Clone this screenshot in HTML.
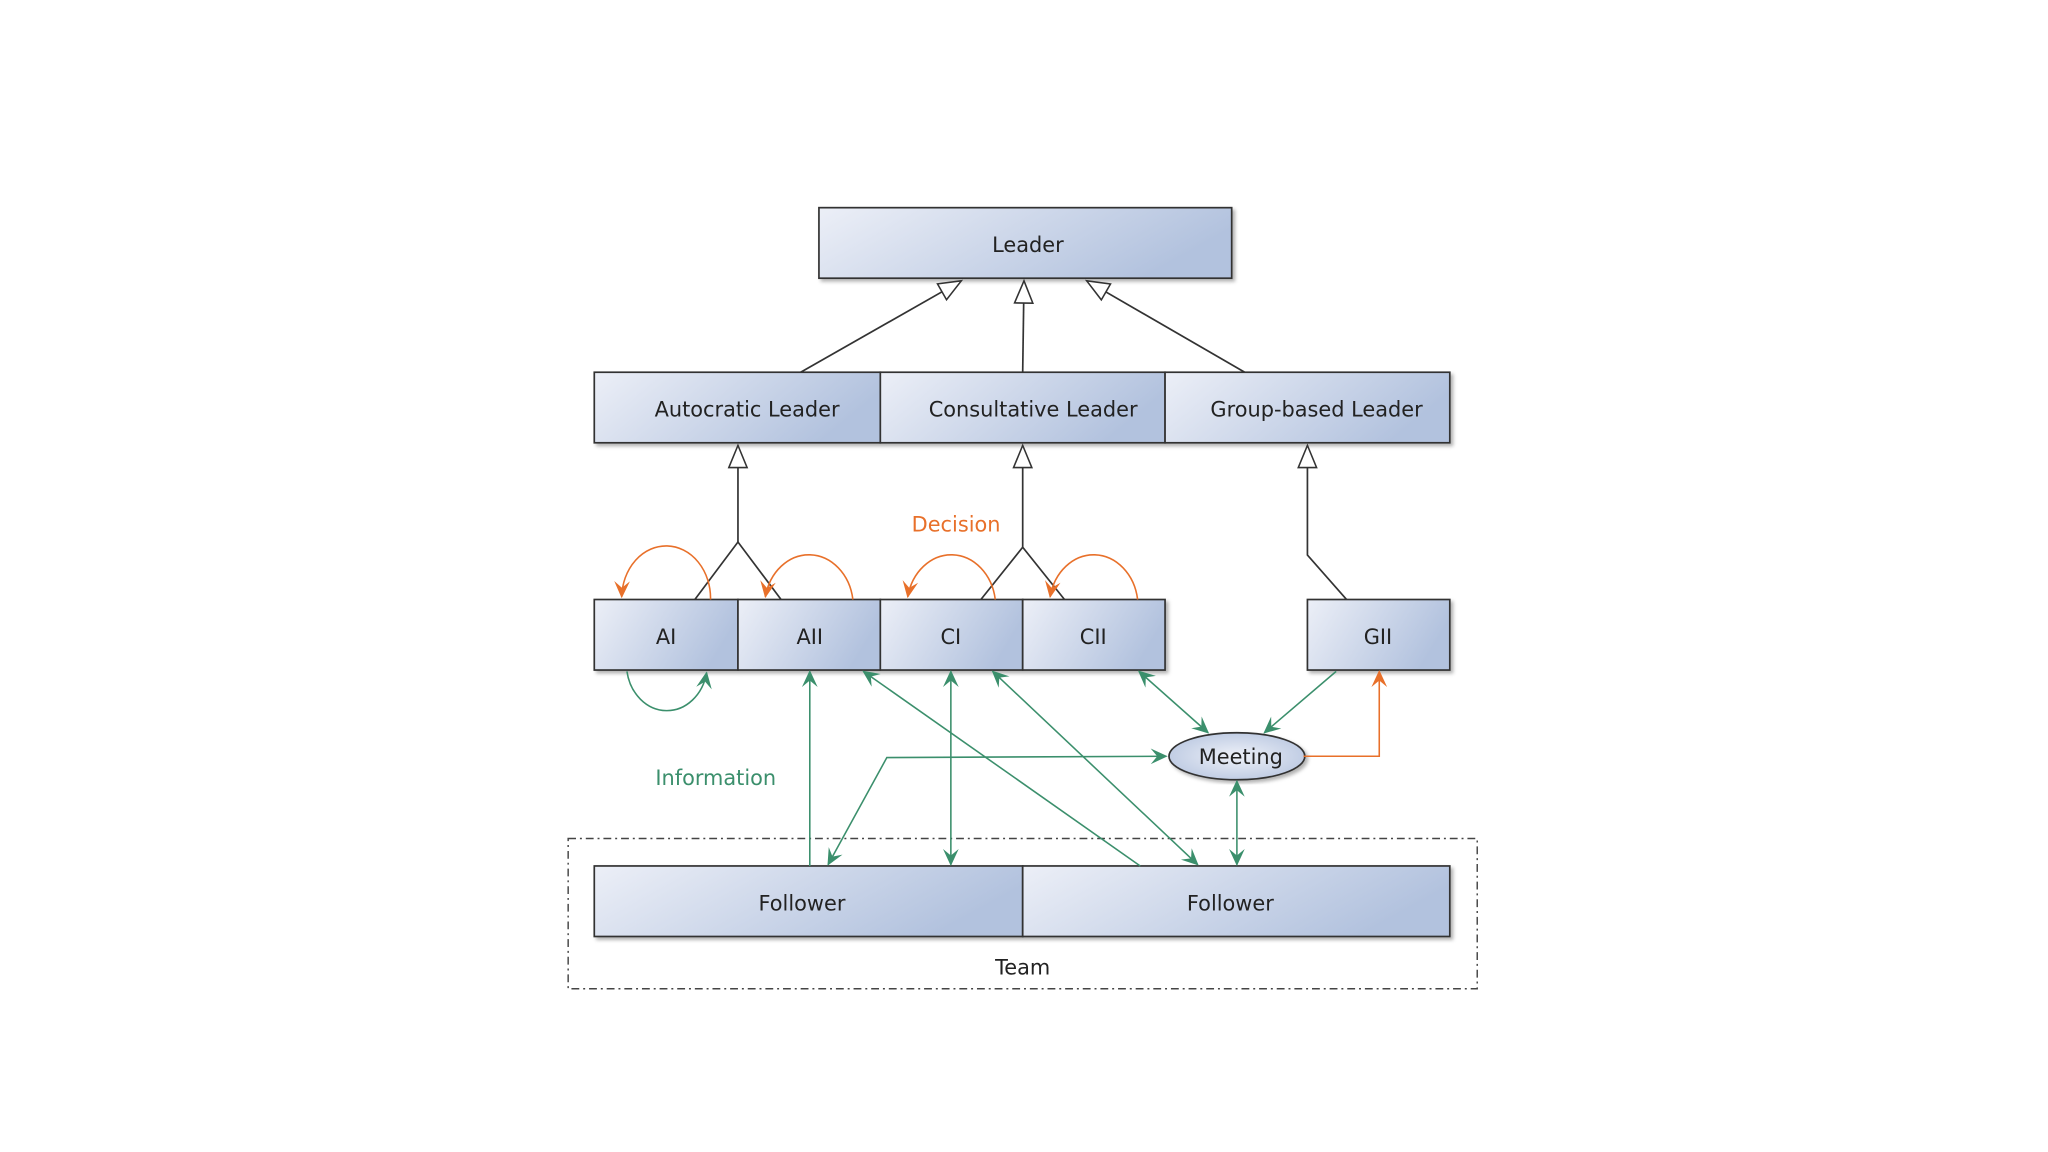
<!DOCTYPE html>
<html><head><meta charset="utf-8"><style>
html,body{margin:0;padding:0;background:#fff;}
svg{display:block;}
text{font-family:"DejaVu Sans","Liberation Sans",sans-serif;font-size:16px;fill:#222;}
</style></head><body>
<svg width="2048" height="1152" viewBox="0 0 1568 882" preserveAspectRatio="none" xmlns="http://www.w3.org/2000/svg">
<defs>
<linearGradient id="g" x1="0" y1="0" x2="1" y2="0.3">
<stop offset="0" stop-color="#eceff7"/><stop offset="1" stop-color="#b2c2de"/></linearGradient>
<radialGradient id="eg" cx="0.5" cy="0.5" r="0.6"><stop offset="0" stop-color="#eef1f8"/><stop offset="1" stop-color="#b8c6e0"/></radialGradient>
<marker id="gt" markerWidth="14" markerHeight="14" refX="12" refY="7" orient="auto" markerUnits="userSpaceOnUse">
<path d="M0,1 L13,7 L0,13 L5,7 z" fill="#3b8f6c"/></marker>
<marker id="gs" markerWidth="14" markerHeight="14" refX="2" refY="7" orient="auto" markerUnits="userSpaceOnUse">
<path d="M14,1 L1,7 L14,13 L9,7 z" fill="#3b8f6c"/></marker>
<marker id="ot" markerWidth="14" markerHeight="14" refX="12" refY="7" orient="auto" markerUnits="userSpaceOnUse">
<path d="M0,1 L13,7 L0,13 L5,7 z" fill="#e8702a"/></marker>
<marker id="tri" markerWidth="22" markerHeight="22" refX="18" refY="8" orient="auto" markerUnits="userSpaceOnUse">
<path d="M1,1 L18,8 L1,15 z" fill="#fff" stroke="#333" stroke-width="1.2"/></marker>
<filter id="sh"><feDropShadow dx="2" dy="2" stdDeviation="1.5" flood-color="#000" flood-opacity="0.3"/></filter>
</defs>
<g stroke="#333" stroke-width="1.3" fill="url(#g)" filter="url(#sh)">
<rect x="627" y="159" width="316" height="54"/>
<rect x="455" y="285" width="219" height="54"/>
<rect x="674" y="285" width="218" height="54"/>
<rect x="892" y="285" width="218" height="54"/>
<rect x="455" y="459" width="110" height="54"/>
<rect x="565" y="459" width="109" height="54"/>
<rect x="674" y="459" width="109" height="54"/>
<rect x="783" y="459" width="109" height="54"/>
<rect x="1001" y="459" width="109" height="54"/>
<rect x="455" y="663" width="328" height="54"/>
<rect x="783" y="663" width="327" height="54"/>
</g>
<rect x="435" y="642" width="696" height="115" fill="none" stroke="#444" stroke-width="1.1" stroke-dasharray="6,3,1.5,3"/>
<ellipse cx="947" cy="579" rx="52" ry="18" fill="url(#eg)" stroke="#333" stroke-width="1.3" filter="url(#sh)"/>
<g fill="none" stroke="#333" stroke-width="1.3">
<path d="M613,285 L736,215" marker-end="url(#tri)"/>
<path d="M783,285 L784,215" marker-end="url(#tri)"/>
<path d="M953,285 L832,215" marker-end="url(#tri)"/>
<path d="M532,459 L565,415 L598,459"/>
<path d="M565,415 L565,341" marker-end="url(#tri)"/>
<path d="M751,459 L783,419 L815,459"/>
<path d="M783,419 L783,341" marker-end="url(#tri)"/>
<path d="M1031,459 L1001,425 L1001,341" marker-end="url(#tri)"/>
</g>
<g fill="none" stroke="#e8702a" stroke-width="1.2">
<path d="M544,459 A34,40 0 0 0 476,457" marker-end="url(#ot)"/>
<path d="M653,459 A34,40 0 0 0 586,457" marker-end="url(#ot)"/>
<path d="M762,459 A34,40 0 0 0 695,457" marker-end="url(#ot)"/>
<path d="M871,459 A34,40 0 0 0 804,457" marker-end="url(#ot)"/>
<path d="M998,579 L1056,579 L1056,514" marker-end="url(#ot)"/>
</g>
<g fill="none" stroke="#3b8f6c" stroke-width="1.2">
<path d="M480,514 A31,36 0 0 0 541,515" marker-end="url(#gt)"/>
<path d="M620,663 L620,514" marker-end="url(#gt)"/>
<path d="M728,514 L728,662" marker-start="url(#gs)" marker-end="url(#gt)"/>
<path d="M873,663 L661,514" marker-end="url(#gt)"/>
<path d="M760,514 L917,662" marker-start="url(#gs)" marker-end="url(#gt)"/>
<path d="M872,514 L925,561" marker-start="url(#gs)" marker-end="url(#gt)"/>
<path d="M1023,514 L968,561" marker-end="url(#gt)"/>
<path d="M634,662 L679,580 L893,579" marker-start="url(#gs)" marker-end="url(#gt)"/>
<path d="M947,598 L947,662" marker-start="url(#gs)" marker-end="url(#gt)"/>
</g>
<g text-anchor="middle">
<text x="787" y="193">Leader</text>
<text x="572" y="319">Autocratic Leader</text>
<text x="791" y="319">Consultative Leader</text>
<text x="1008" y="319">Group-based Leader</text>
<text x="510" y="493">AI</text>
<text x="620" y="493">AII</text>
<text x="728" y="493">CI</text>
<text x="837" y="493">CII</text>
<text x="1055" y="493">GII</text>
<text x="614" y="697">Follower</text>
<text x="942" y="697">Follower</text>
<text x="783" y="746">Team</text>
<text x="950" y="585">Meeting</text>
<text x="732" y="407" style="fill:#e8702a">Decision</text>
<text x="548" y="601" style="fill:#3b8f6c">Information</text>
</g>
</svg>
</body></html>
